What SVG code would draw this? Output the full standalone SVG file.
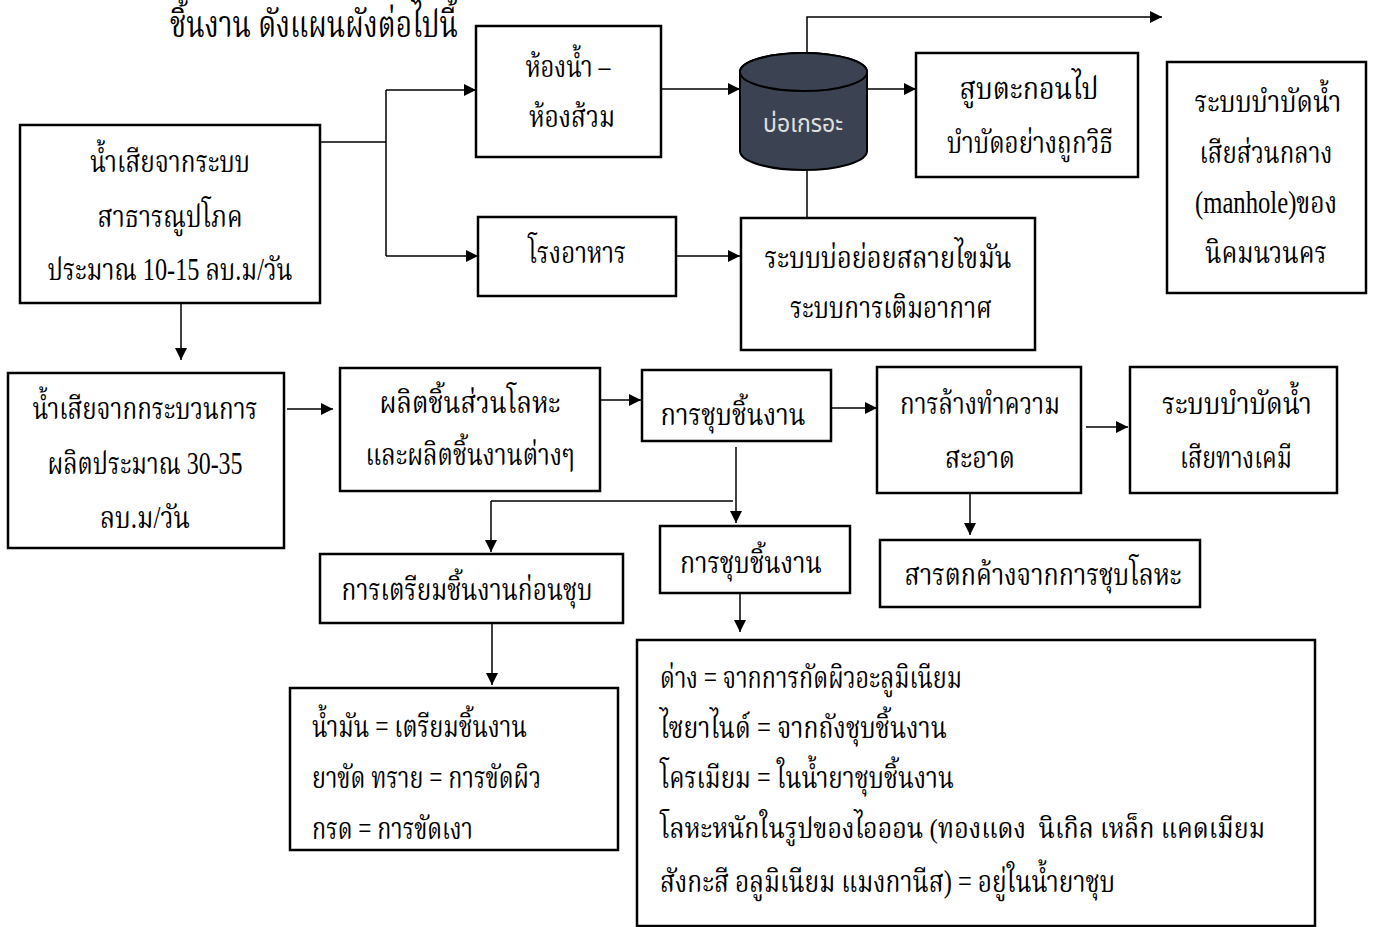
<svg xmlns="http://www.w3.org/2000/svg" width="1375" height="927" viewBox="0 0 1375 927">
  <style>
    .box { fill: #ffffff; stroke: #000000; stroke-width: 2.5; }
    .ln { fill: none; stroke: #000000; stroke-width: 1.5; }
    .t { font-family: "Liberation Serif", "Noto Serif Thai", "Noto Sans Thai", "DejaVu Serif", serif; font-size: 31px; fill: #000000; }
    .c { text-anchor: middle; }
  </style>
  <defs>
    <marker id="arr" viewBox="0 0 10 10" refX="10" refY="5" markerWidth="14" markerHeight="12" markerUnits="userSpaceOnUse" orient="auto">
      <path d="M0,0 L10,5 L0,10 z" fill="#000000"/>
    </marker>
  </defs>
  <rect width="1375" height="927" fill="#ffffff"/>

  <text class="t" x="170" y="37" style="font-size:37px" textLength="288" lengthAdjust="spacingAndGlyphs">ชิ้นงาน ดังแผนผังต่อไปนี้</text>

  <!-- connectors -->
  <g id="connectors">
    <path class="ln" d="M320,142 H386 M386,90 V256"/>
    <path class="ln" d="M386,90 H476" marker-end="url(#arr)"/>
    <path class="ln" d="M386,256 H478" marker-end="url(#arr)"/>
    <path class="ln" d="M661,89 H740" marker-end="url(#arr)"/>
    <path class="ln" d="M807,53 V17 H1162" marker-end="url(#arr)"/>
    <path class="ln" d="M867,89 H916" marker-end="url(#arr)"/>
    <path class="ln" d="M807,170 V218"/>
    <path class="ln" d="M676,256 H740" marker-end="url(#arr)"/>
    <path class="ln" d="M181,303 V360" marker-end="url(#arr)"/>
    <path class="ln" d="M287,409 H333" marker-end="url(#arr)"/>
    <path class="ln" d="M600,400 H641" marker-end="url(#arr)"/>
    <path class="ln" d="M831,408 H877" marker-end="url(#arr)"/>
    <path class="ln" d="M1086,427 H1128" marker-end="url(#arr)"/>
    <path class="ln" d="M736,447 V523" marker-end="url(#arr)"/>
    <path class="ln" d="M491,501 H733"/>
    <path class="ln" d="M491,501 V552" marker-end="url(#arr)"/>
    <path class="ln" d="M492,623 V685" marker-end="url(#arr)"/>
    <path class="ln" d="M740,593 V632" marker-end="url(#arr)"/>
    <path class="ln" d="M970,493 V535" marker-end="url(#arr)"/>
  </g>

  <g id="public-wastewater">
    <rect class="box" x="20" y="125" width="300" height="178"/>
    <text class="t c" x="170" y="172" textLength="160" lengthAdjust="spacingAndGlyphs">น้ำเสียจากระบบ</text>
    <text class="t c" x="170" y="227" textLength="145" lengthAdjust="spacingAndGlyphs">สาธารณูปโภค</text>
    <text class="t c" x="170" y="280" textLength="245" lengthAdjust="spacingAndGlyphs">ประมาณ 10-15 ลบ.ม/วัน</text>
  </g>

  <g id="toilet">
    <rect class="box" x="476" y="26" width="185" height="131"/>
    <text class="t c" x="568" y="77" textLength="85" lengthAdjust="spacingAndGlyphs">ห้องน้ำ –</text>
    <text class="t c" x="572" y="127" textLength="86" lengthAdjust="spacingAndGlyphs">ห้องส้วม</text>
  </g>

  <g id="canteen">
    <rect class="box" x="478" y="217" width="198" height="79"/>
    <text class="t c" x="577" y="263" textLength="98" lengthAdjust="spacingAndGlyphs">โรงอาหาร</text>
  </g>

  <g id="septic-tank">
    <path d="M740,72 V151 A63.5,19 0 0 0 867,151 V72 A63.5,19 0 0 0 740,72 z" fill="#3b4352" stroke="#000000" stroke-width="2"/>
    <ellipse cx="803.5" cy="72" rx="63.5" ry="19" fill="#3b4352" stroke="#000000" stroke-width="2"/>
    <text x="803" y="132" text-anchor="middle" font-family="'DejaVu Sans', 'Noto Sans Thai', sans-serif" font-size="24" fill="#e0e0e0" textLength="80" lengthAdjust="spacingAndGlyphs">บ่อเกรอะ</text>
  </g>

  <g id="sludge-pump">
    <rect class="box" x="916" y="53" width="222" height="124"/>
    <text class="t c" x="1029" y="99" textLength="139" lengthAdjust="spacingAndGlyphs">สูบตะกอนไป</text>
    <text class="t c" x="1030" y="153" textLength="166" lengthAdjust="spacingAndGlyphs">บำบัดอย่างถูกวิธี</text>
  </g>

  <g id="grease-trap">
    <rect class="box" x="741" y="218" width="294" height="132"/>
    <text class="t c" x="888" y="268" textLength="247" lengthAdjust="spacingAndGlyphs">ระบบบ่อย่อยสลายไขมัน</text>
    <text class="t c" x="891" y="318" textLength="202" lengthAdjust="spacingAndGlyphs">ระบบการเติมอากาศ</text>
  </g>

  <g id="central-treatment">
    <rect class="box" x="1167" y="62" width="199" height="231"/>
    <text class="t c" x="1268" y="112" textLength="147" lengthAdjust="spacingAndGlyphs">ระบบบำบัดน้ำ</text>
    <text class="t c" x="1266" y="163" textLength="133" lengthAdjust="spacingAndGlyphs">เสียส่วนกลาง</text>
    <text class="t c" x="1266" y="213" textLength="142" lengthAdjust="spacingAndGlyphs">(manhole)ของ</text>
    <text class="t c" x="1266" y="263" textLength="122" lengthAdjust="spacingAndGlyphs">นิคมนวนคร</text>
  </g>

  <g id="process-wastewater">
    <rect class="box" x="8" y="373" width="276" height="175"/>
    <text class="t c" x="145" y="419" textLength="225" lengthAdjust="spacingAndGlyphs">น้ำเสียจากกระบวนการ</text>
    <text class="t c" x="145" y="474" textLength="195" lengthAdjust="spacingAndGlyphs">ผลิตประมาณ 30-35</text>
    <text class="t c" x="145" y="528" textLength="90" lengthAdjust="spacingAndGlyphs">ลบ.ม/วัน</text>
  </g>

  <g id="metal-parts">
    <rect class="box" x="340" y="368" width="260" height="123"/>
    <text class="t c" x="470" y="413" textLength="181" lengthAdjust="spacingAndGlyphs">ผลิตชิ้นส่วนโลหะ</text>
    <text class="t c" x="470" y="465" textLength="209" lengthAdjust="spacingAndGlyphs">และผลิตชิ้นงานต่างๆ</text>
  </g>

  <g id="plating">
    <rect class="box" x="642" y="370" width="189" height="71"/>
    <text class="t c" x="733" y="425" textLength="145" lengthAdjust="spacingAndGlyphs">การชุบชิ้นงาน</text>
  </g>

  <g id="rinsing">
    <rect class="box" x="877" y="367" width="204" height="126"/>
    <text class="t c" x="980" y="414" textLength="160" lengthAdjust="spacingAndGlyphs">การล้างทำความ</text>
    <text class="t c" x="980" y="468" textLength="70" lengthAdjust="spacingAndGlyphs">สะอาด</text>
  </g>

  <g id="chemical-treatment">
    <rect class="box" x="1130" y="367" width="207" height="126"/>
    <text class="t c" x="1237" y="414" textLength="150" lengthAdjust="spacingAndGlyphs">ระบบบำบัดน้ำ</text>
    <text class="t c" x="1236" y="468" textLength="112" lengthAdjust="spacingAndGlyphs">เสียทางเคมี</text>
  </g>

  <g id="plating-2">
    <rect class="box" x="660" y="526" width="190" height="67"/>
    <text class="t c" x="751" y="573" textLength="142" lengthAdjust="spacingAndGlyphs">การชุบชิ้นงาน</text>
  </g>

  <g id="residue">
    <rect class="box" x="880" y="540" width="320" height="67"/>
    <text class="t c" x="1043" y="585" textLength="277" lengthAdjust="spacingAndGlyphs">สารตกค้างจากการชุบโลหะ</text>
  </g>

  <g id="pre-treatment">
    <rect class="box" x="320" y="554" width="303" height="69"/>
    <text class="t c" x="467" y="600" textLength="251" lengthAdjust="spacingAndGlyphs">การเตรียมชิ้นงานก่อนชุบ</text>
  </g>

  <g id="pretreatment-waste">
    <rect class="box" x="290" y="688" width="328" height="162"/>
    <text class="t" x="312" y="737" textLength="215" lengthAdjust="spacingAndGlyphs">น้ำมัน = เตรียมชิ้นงาน</text>
    <text class="t" x="312" y="788" textLength="229" lengthAdjust="spacingAndGlyphs">ยาขัด ทราย = การขัดผิว</text>
    <text class="t" x="312" y="839" textLength="161" lengthAdjust="spacingAndGlyphs">กรด = การขัดเงา</text>
  </g>

  <g id="plating-waste">
    <rect class="box" x="637" y="640" width="678" height="286"/>
    <text class="t" x="660" y="688" textLength="302" lengthAdjust="spacingAndGlyphs">ด่าง = จากการกัดผิวอะลูมิเนียม</text>
    <text class="t" x="660" y="738" textLength="287" lengthAdjust="spacingAndGlyphs">ไซยาไนด์ = จากถังชุบชิ้นงาน</text>
    <text class="t" x="660" y="788" textLength="294" lengthAdjust="spacingAndGlyphs">โครเมียม = ในน้ำยาชุบชิ้นงาน</text>
    <text class="t" x="660" y="838" style="font-size:28px" textLength="605" lengthAdjust="spacingAndGlyphs">โลหะหนักในรูปของไอออน (ทองแดง&#160; นิเกิล เหล็ก แคดเมียม</text>
    <text class="t" x="660" y="892" textLength="455" lengthAdjust="spacingAndGlyphs">สังกะสี อลูมิเนียม แมงกานีส) = อยู่ในน้ำยาชุบ</text>
  </g>
</svg>
